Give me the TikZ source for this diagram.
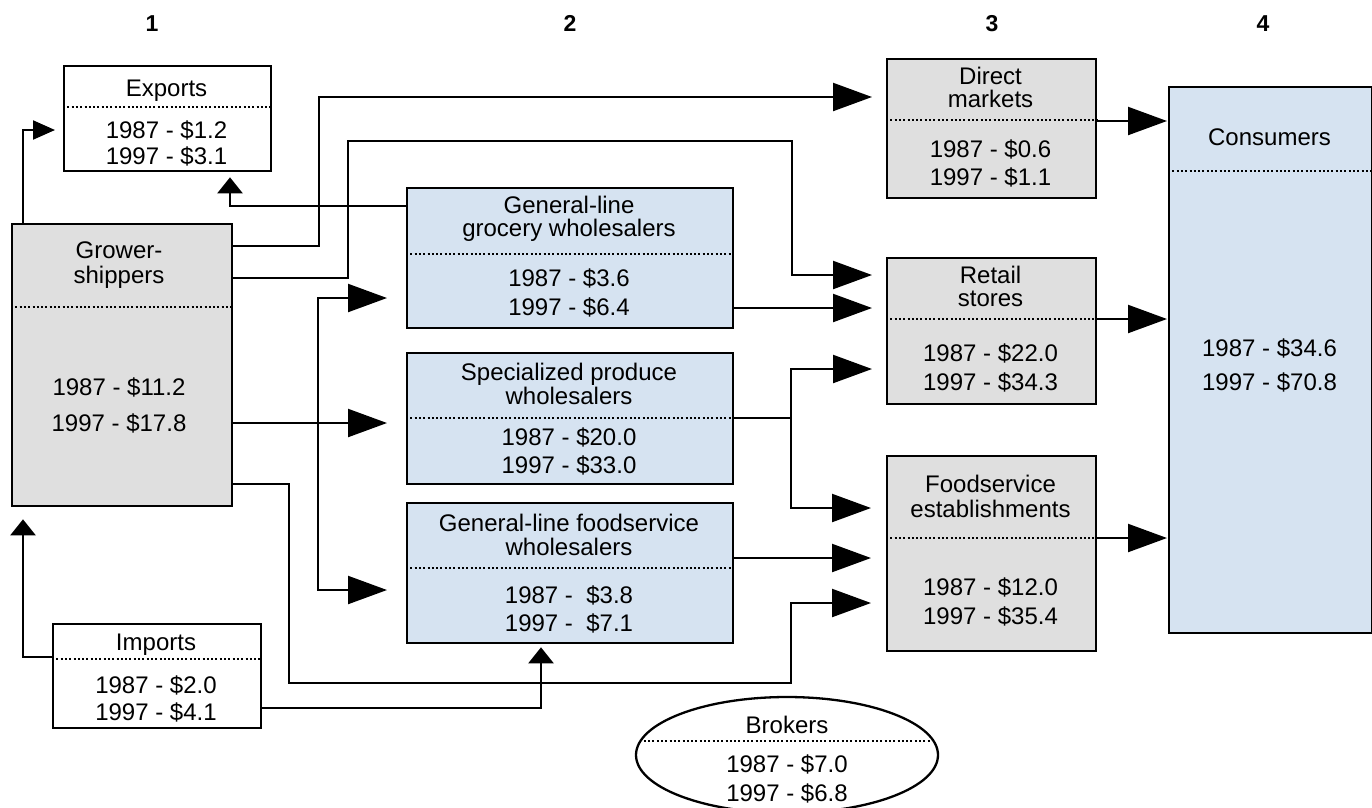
\documentclass[tikz,border=0pt]{standalone}
\usepackage{fontspec}
\setmainfont{Liberation Sans}
\usetikzlibrary{arrows.meta,shapes.geometric}
\definecolor{boxgrey}{HTML}{DFDFDF}
\definecolor{boxblue}{HTML}{D6E3F1}
\tikzset{
 box/.style={draw, line width=2.3pt, inner sep=0pt, anchor=north west},
 gbox/.style={box, fill=boxgrey},
 bbox/.style={box, fill=boxblue},
 wbox/.style={box, fill=white},
 dotline/.style={line width=2.2pt, dash pattern=on 2pt off 2.3pt},
 txt/.style={font=\fontsize{24}{28}\selectfont, inner sep=0pt, anchor=base},
 hdr/.style={font=\fontsize{23}{27}\selectfont\bfseries, inner sep=0pt, anchor=base},
 conn/.style={line width=2.2pt},
 barr/.style={conn, -{Triangle[length=39pt,width=28pt]}},
 sarr/.style={conn, -{Triangle[length=16pt,width=25pt]}},
 sidearr/.style={conn, -{Triangle[length=22pt,width=19pt]}},
}
\begin{document}
\begin{tikzpicture}[x=1pt,y=-1pt]
\useasboundingbox (0,0) rectangle (1372,807);
\fill[white] (0,0) rectangle (1372,807);

% column headers
\node[hdr] (h1) at (152,31) {1};
\node[hdr] (h2) at (570,31) {2};
\node[hdr] (h3) at (992,31) {3};
\node[hdr] (h4) at (1263,31) {4};

% boxes
\node[wbox, minimum width=207pt, minimum height=105pt] (exports) at (63,65) {};
\node[gbox, minimum width=220pt, minimum height=282pt] (grower) at (11,223) {};
\node[wbox, minimum width=208pt, minimum height=104pt] (imports) at (52,623) {};
\node[bbox, minimum width=326pt, minimum height=140pt] (glg) at (406,187) {};
\node[bbox, minimum width=326pt, minimum height=131pt] (spec) at (406,352) {};
\node[bbox, minimum width=326pt, minimum height=140pt] (glf) at (406,502) {};
\node[gbox, minimum width=209pt, minimum height=139pt] (direct) at (886,58) {};
\node[gbox, minimum width=209pt, minimum height=146pt] (retail) at (886,257) {};
\node[gbox, minimum width=209pt, minimum height=195pt] (food) at (886,455) {};
\node[bbox, minimum width=203pt, minimum height=546pt] (cons) at (1168,86) {};
\node[draw, ellipse, line width=2.3pt, fill=white, inner sep=0pt,
      minimum width=302pt, minimum height=116pt] (brokers) at (787,755) {};

% dotted separators
\draw[dotline] (exports.west |- 0,107) -- (exports.east |- 0,107);
\draw[dotline] (grower.west |- 0,307) -- (grower.east |- 0,307);
\draw[dotline] (imports.west |- 0,659) -- (imports.east |- 0,659);
\draw[dotline] (glg.west |- 0,254) -- (glg.east |- 0,254);
\draw[dotline] (spec.west |- 0,418) -- (spec.east |- 0,418);
\draw[dotline] (glf.west |- 0,568) -- (glf.east |- 0,568);
\draw[dotline] (direct.west |- 0,120) -- (direct.east |- 0,120);
\draw[dotline] (retail.west |- 0,319) -- (retail.east |- 0,319);
\draw[dotline] (food.west |- 0,538) -- (food.east |- 0,538);
\draw[dotline] (cons.west |- 0,171) -- (cons.east |- 0,171);
\draw[dotline] ([xshift=9pt]brokers.west |- 0,741) -- ([xshift=-9pt]brokers.east |- 0,741);

% texts
\node[txt] (exT) at (166.5,96) {Exports};
\node[txt] (exA) at (166.5,138) {1987 - \$1.2};
\node[txt] (exB) at (166.5,164) {1997 - \$3.1};

\node[txt] (grT1) at (119,258) {Grower-};
\node[txt] (grT2) at (119,283) {shippers};
\node[txt] (grA) at (119,395) {1987 - \$11.2};
\node[txt] (grB) at (119,431) {1997 - \$17.8};

\node[txt] (imT) at (156,650) {Imports};
\node[txt] (imA) at (156,693) {1987 - \$2.0};
\node[txt] (imB) at (156,720) {1997 - \$4.1};

\node[txt] (glgT1) at (569,213) {General-line};
\node[txt] (glgT2) at (569,236) {grocery wholesalers};
\node[txt] (glgA) at (569,286) {1987 - \$3.6};
\node[txt] (glgB) at (569,315) {1997 - \$6.4};

\node[txt] (spT1) at (569,380) {Specialized produce};
\node[txt] (spT2) at (569,404) {wholesalers};
\node[txt] (spA) at (569,445) {1987 - \$20.0};
\node[txt] (spB) at (569,473) {1997 - \$33.0};

\node[txt] (glfT1) at (569,531) {General-line foodservice};
\node[txt] (glfT2) at (569,555) {wholesalers};
\node[txt] (glfA) at (569,603) {1987 -\ \ \$3.8};
\node[txt] (glfB) at (569,631) {1997 -\ \ \$7.1};

\node[txt] (diT1) at (990.5,84) {Direct};
\node[txt] (diT2) at (990.5,107) {markets};
\node[txt] (diA) at (990.5,157) {1987 - \$0.6};
\node[txt] (diB) at (990.5,185) {1997 - \$1.1};

\node[txt] (reT1) at (990.5,283) {Retail};
\node[txt] (reT2) at (990.5,306) {stores};
\node[txt] (reA) at (990.5,361) {1987 - \$22.0};
\node[txt] (reB) at (990.5,390) {1997 - \$34.3};

\node[txt] (foT1) at (990.5,492) {Foodservice};
\node[txt] (foT2) at (990.5,517) {establishments};
\node[txt] (foA) at (990.5,595) {1987 - \$12.0};
\node[txt] (foB) at (990.5,624) {1997 - \$35.4};

\node[txt] (coT) at (1269.5,145) {Consumers};
\node[txt] (coA) at (1269.5,356) {1987 - \$34.6};
\node[txt] (coB) at (1269.5,390) {1997 - \$70.8};

\node[txt] (brT) at (787,733) {Brokers};
\node[txt] (brA) at (787,772) {1987 - \$7.0};
\node[txt] (brB) at (787,801) {1997 - \$6.8};

% connectors
\draw[sidearr, shorten >=8pt] (grower.north -| 23,0) |- (exports.west |- 0,130);
\draw[sarr, shorten >=5pt] (glg.west |- 0,206) -| (exports.south -| 230,0);
\draw[barr, shorten >=14pt] (grower.east |- 0,246) -| (319,97) -- (direct.west |- 0,97);
\draw[barr, shorten >=14pt] (grower.east |- 0,278) -| (348,141) -| (792,275) -- (retail.west |- 0,275);
\draw[barr, shorten >=19pt] (grower.east |- 0,423) -- (spec.west |- 0,423);
\coordinate (j1) at (318,423);
\draw[barr, shorten >=19pt] (j1) |- (glg.west |- 0,298);
\draw[barr, shorten >=19pt] (j1) |- (glf.west |- 0,590);
\draw[barr, shorten >=15pt] (grower.east |- 0,484) -| (289,683) -| (791,603) -- (food.west |- 0,603);
\draw[sarr, shorten >=12pt] (imports.west |- 0,657) -| (grower.south -| 23,0);
\draw[sarr, shorten >=3pt] (imports.east |- 0,708) -| (glf.south -| 541,0);
\draw[barr, shorten >=14pt] (glg.east |- 0,308) -- (retail.west |- 0,308);
\coordinate (j2) at (791,418);
\draw[conn] (spec.east |- 0,418) -- (j2);
\draw[barr, shorten >=14pt] (j2) |- (retail.west |- 0,369);
\draw[barr, shorten >=15pt] (j2) |- (food.west |- 0,508);
\draw[barr, shorten >=15pt] (glf.east |- 0,558) -- (food.west |- 0,558);
\draw[barr, shorten >=1pt] (direct.east |- 0,121) -- (cons.west |- 0,121);
\draw[barr, shorten >=1pt] (retail.east |- 0,319) -- (cons.west |- 0,319);
\draw[barr, shorten >=1pt] (food.east |- 0,538) -- (cons.west |- 0,538);
\end{tikzpicture}
\end{document}
